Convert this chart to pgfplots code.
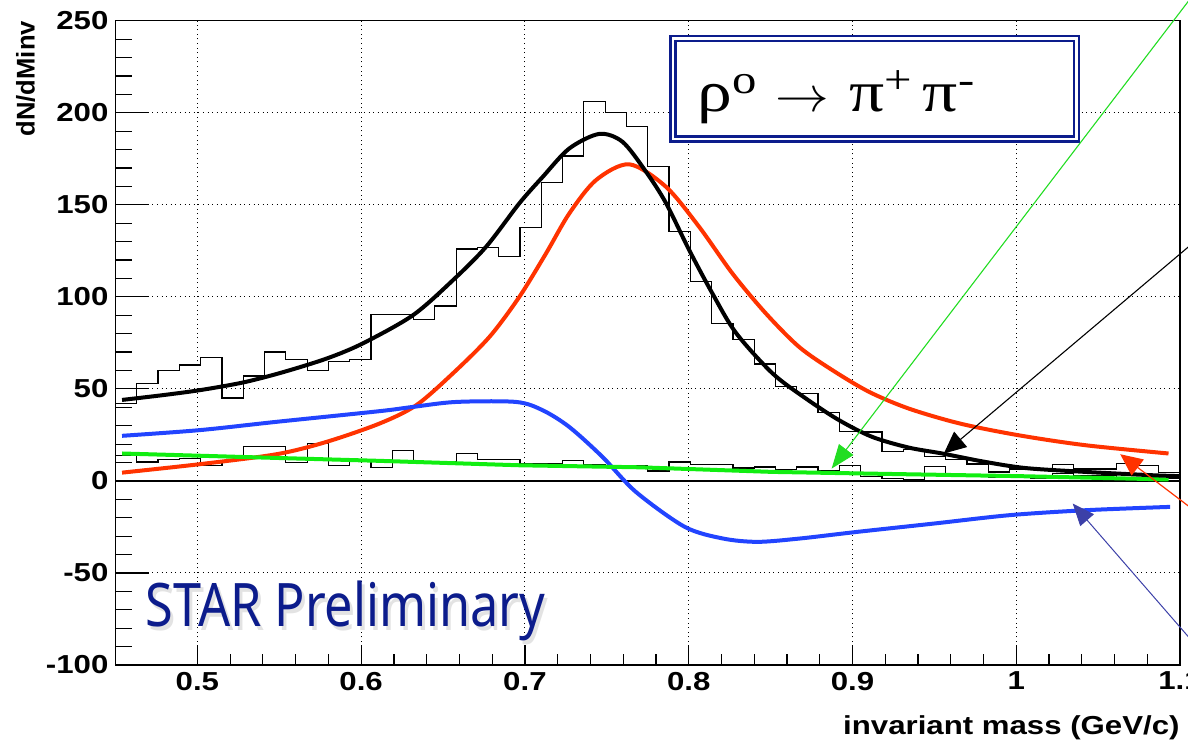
\documentclass[border=0pt]{standalone}
\usepackage{fontspec}
\setmainfont{Liberation Sans}[FakeStretch=1.2]
\newfontfamily\ylabfont{Liberation Sans}
\newfontfamily\titlefont{Liberation Serif}[FakeStretch=1.2]
\newfontfamily\starfont{Noto Sans}[FakeStretch=0.84]
\usepackage{pgfplots}
\pgfplotsset{compat=1.18}
\usetikzlibrary{arrows.meta}

\definecolor{rootred}{HTML}{FF3300}
\definecolor{rootblue}{HTML}{2244FF}
\definecolor{rootgreen}{HTML}{11EE11}
\definecolor{arrgreen}{HTML}{22DD22}
\definecolor{starblue}{HTML}{0C1C8C}
\definecolor{arrblue}{HTML}{3C40A8}

\begin{document}
\begin{tikzpicture}
\useasboundingbox (0,0) rectangle (594pt,370.5pt);
\begin{axis}[at={(57.75pt,38pt)}, anchor=south west, scale only axis,
  width=532.25pt, height=322.15pt, xmin=0.45, xmax=1.1, ymin=-100, ymax=250,
  clip=false,
  xtick={0.5,0.6,0.7,0.8,0.9,1,1.1}, ytick={-100,-50,0,50,100,150,200,250},
  minor x tick num=4, minor y tick num=4,
  tick align=inside, xtick pos=bottom, ytick pos=left,
  xtick style={/pgfplots/major tick length=10pt, /pgfplots/minor tick length=5.3pt, black, line width=0.6pt},
  ytick style={/pgfplots/major tick length=16.8pt, /pgfplots/minor tick length=8.2pt, black, line width=0.6pt},
  grid=major, grid style={black, line width=0.5pt, dash pattern=on 0.5pt off 1.8pt},
  axis line style={black, line width=0.7pt},
  tick label style={font=\bfseries\fontsize{13}{15}\selectfont},
  /pgf/number format/assume math mode=true,
  xlabel={invariant mass (GeV/c)},
  every axis x label/.style={at={(rel axis cs:1,0)}, anchor=north east, yshift=-25pt, inner sep=0pt,
    font=\bfseries\fontsize{13}{15}\selectfont},
  ylabel={dN/dMinv},
  every axis y label/.style={at={(rel axis cs:0,1)}, xshift=-45pt, rotate=90, anchor=east, inner sep=0pt},
  ylabel style={font=\ylabfont\bfseries\fontsize{12.8}{15}\selectfont},
]
% title box
\draw[starblue, line width=1.3pt, fill=white] (rel axis cs:0.5213,0.8122) rectangle (rel axis cs:0.9052,0.9763);
\draw[starblue, line width=1.2pt] ([xshift=2.6pt,yshift=2.6pt]rel axis cs:0.5213,0.8122) rectangle ([xshift=-2.6pt,yshift=-2.6pt]rel axis cs:0.9052,0.9763);
\node[anchor=base west, inner sep=0pt, font=\titlefont\fontsize{29}{31}\selectfont]
  at (rel axis cs:0.5463,0.8588) {ρ\textsuperscript{o}\hspace{9pt}\scalebox{1.08}[1]{$\rightarrow$}\hspace{10pt}π\textsuperscript{+}\hspace{5pt}π\textsuperscript{-}};

% zero line
\addplot[black, line width=0.6pt] coordinates {(0.45,0) (1.1,0)};

% data histogram
\addplot[black, line width=0.6pt, const plot mark left] coordinates {
(0.450,42) (0.463,53) (0.476,60) (0.489,63) (0.502,67) (0.515,45) (0.528,57) (0.541,70) (0.554,66) (0.567,60)
(0.580,65) (0.593,66) (0.606,90.5) (0.619,90.5) (0.632,87.7) (0.645,95) (0.658,126) (0.671,127) (0.684,122) (0.697,137.5)
(0.710,162) (0.723,176.5) (0.736,206) (0.749,200) (0.762,192.5) (0.775,170.6) (0.788,135.3) (0.801,108.2) (0.814,85.5) (0.827,76.8)
(0.840,63.5) (0.853,51.3) (0.866,47.5) (0.879,37) (0.892,27) (0.905,26.6) (0.918,15.8) (0.931,17) (0.944,13.4) (0.957,11.6)
(0.970,9.2) (0.983,4.9) (0.996,6.5) (1.009,6.2) (1.022,9) (1.035,6.5) (1.048,6.5) (1.061,9.4) (1.074,8.5) (1.087,4.5) (1.100,4.5)};

% lower histogram
\addplot[black, line width=0.6pt, const plot mark left] coordinates {
(0.450,14) (0.463,10.3) (0.476,11.5) (0.489,12) (0.502,8.5) (0.515,11) (0.528,18.9) (0.541,18.9) (0.554,10) (0.567,20.5)
(0.580,8.2) (0.593,11.3) (0.606,7.2) (0.619,16.7) (0.632,10.3) (0.645,10.3) (0.658,14.9) (0.671,11.8) (0.684,11.8) (0.697,9.5)
(0.710,9.5) (0.723,11.1) (0.736,9.1) (0.749,7.3) (0.762,8.5) (0.775,5.4) (0.788,10.3) (0.801,9.1) (0.814,9.1) (0.827,7)
(0.840,7.6) (0.853,6) (0.866,7.6) (0.879,5.5) (0.892,8.5) (0.905,2.2) (0.918,1.5) (0.931,0.5) (0.944,8) (0.957,2.2)
(0.970,3) (0.983,2) (0.996,2) (1.009,1.5) (1.022,4) (1.035,3) (1.048,3) (1.061,1) (1.074,1) (1.087,1.5) (1.100,1.5)};

% fit curves
\addplot[rootred, line width=2pt, smooth] coordinates {
(0.454,4.5) (0.5015,9.1) (0.5483,14.5) (0.5788,21.2) (0.6113,31.2) (0.6336,41.1) (0.656,58.4) (0.6784,78.3)
(0.6966,100) (0.7129,123.6) (0.7271,145.3) (0.7434,163.4) (0.7637,172) (0.7861,159.8) (0.8064,138) (0.8267,112.7)
(0.8471,91) (0.8674,72.8) (0.8877,60.2) (0.9101,48.4) (0.9344,39.3) (0.9655,31.2) (1.0015,24.8) (1.0422,19.4) (1.093,14.9)};
\addplot[rootblue, line width=2pt, smooth] coordinates {
(0.454,24.5) (0.5015,27.6) (0.5483,32.1) (0.6113,37.9) (0.6316,40.2) (0.658,42.9) (0.6946,42.9) (0.7108,38.4)
(0.7271,29.3) (0.7474,13) (0.7678,-6) (0.7977,-25) (0.821,-31.3) (0.842,-33.1) (0.8677,-31.3)
(0.9027,-27.7) (0.9493,-23.2) (0.996,-18.6) (1.0427,-15.9) (1.094,-14.1)};
\addplot[rootgreen, line width=2pt] coordinates {
(0.454,14.9) (0.528,13) (0.6113,10.9) (0.6966,8.5) (0.7698,7.4) (0.8511,4.9) (0.9344,3.6) (1.0015,2.6) (1.093,0.8)};
\addplot[black, line width=2pt, smooth] coordinates {
(0.454,44) (0.478,46.5) (0.5015,49.3) (0.528,53.5) (0.552,59) (0.579,66.5) (0.601,74.7) (0.6316,90) (0.656,109)
(0.6763,127.2) (0.6966,150.8) (0.7109,165.2) (0.7271,180.6) (0.7454,188.5) (0.7596,184.2) (0.7739,168) (0.7861,151)
(0.8003,125.4) (0.8145,101.8) (0.8288,80.5) (0.8511,58.5) (0.8715,44.8) (0.8918,33) (0.9121,23.9) (0.9344,18.1)
(0.9548,14.9) (0.98,10.5) (1.0056,7) (1.0422,4.9) (1.0828,3.1) (1.1,2.6)};

% pointer arrows (their labels lie off the picture)
\draw[arrgreen, line width=0.55pt, -{Triangle[length=12pt,width=9pt]}] (axis cs:1.1337,293.9) -- (axis cs:0.8873,6.7);
\draw[black, line width=0.55pt, -{Triangle[length=11pt,width=10pt]}] (axis cs:1.1357,150.1) -- (axis cs:0.9558,14.9);
\draw[rootred, line width=0.6pt, -{Triangle[length=11pt,width=10pt]}] (axis cs:1.1357,-34.3) -- (axis cs:1.0635,14.5);
\draw[arrblue, line width=0.5pt, -{Triangle[length=11pt,width=9pt]}] (axis cs:1.1357,-116) -- (axis cs:1.0345,-12.3);

% watermark with a faint shadow
\node[anchor=base west, inner sep=0pt, text=gray!22, font=\starfont\fontsize{30}{32}\selectfont]
  at ([xshift=1.5pt,yshift=-2pt]rel axis cs:0.0281,0.0594) {STAR Preliminary};
\node[anchor=base west, inner sep=0pt, text=starblue, font=\starfont\fontsize{30}{32}\selectfont]
  at (rel axis cs:0.0281,0.0594) {STAR Preliminary};
\end{axis}
\end{tikzpicture}
\end{document}
